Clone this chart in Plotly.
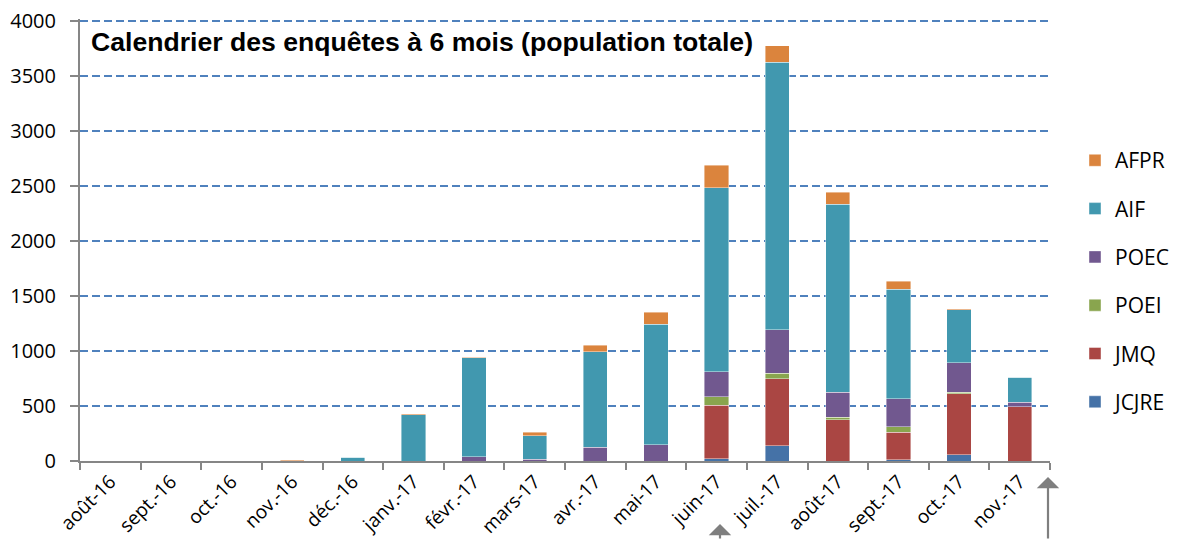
import plotly.graph_objects as go

months = ["août-16", "sept.-16", "oct.-16", "nov.-16", "déc.-16", "janv.-17",
          "févr.-17", "mars-17", "avr.-17", "mai-17", "juin-17", "juil.-17",
          "août-17", "sept.-17", "oct.-17", "nov.-17"]

JCJRE = [0, 0, 0, 0, 0, 0, 0, 0, 0, 0, 20, 140, 0, 10, 55, 0]
JMQ   = [0, 0, 0, 0, 0, 0, 0, 0, 0, 0, 485, 610, 375, 250, 555, 495]
POEI  = [0, 0, 0, 0, 0, 0, 0, 0, 0, 0, 80, 50, 25, 50, 15, 0]
POEC  = [0, 0, 0, 0, 0, 0, 40, 15, 127, 150, 225, 395, 225, 255, 270, 40]
AIF   = [0, 0, 0, 0, 35, 420, 900, 215, 867, 1093, 1675, 2430, 1710, 995, 480, 225]
AFPR  = [0, 0, 0, 8, 0, 8, 5, 30, 60, 110, 205, 150, 110, 75, 10, 0]

series = [
    ("JCJRE", JCJRE, "#4572A7"),
    ("JMQ", JMQ, "#AA4643"),
    ("POEI", POEI, "#89A54E"),
    ("POEC", POEC, "#71588F"),
    ("AIF", AIF, "#4198AF"),
    ("AFPR", AFPR, "#DB843D"),
]

y_ticks = [0, 500, 1000, 1500, 2000, 2500, 3000, 3500, 4000]
Y_MAX = 4020  # a hair above 4000 so the top grid line is kept

# page body has an 8px margin; size the figure so the page fits the window
OFF = 8
W, H = 1178 - 2 * OFF, 548 - 2 * OFF
PL, PW = 80, 970                      # plot area, window pixels
Y0, Y4000 = 461, 21                   # window y of value 0 and 4000
SCALE = (Y0 - Y4000) / 4000
PH = SCALE * Y_MAX
PT = Y0 - PH


def px(X):
    return (X - PL) / PW


def py(Y):
    return (Y0 - Y) / PH


fig = go.Figure()
n = len(series)
for i, (name, vals, color) in enumerate(series):
    fig.add_trace(go.Bar(
        x=months, y=vals, name=name, legendgroup=name, legendrank=n - i,
        marker=dict(color=color, line=dict(color="rgba(255,255,255,0.6)", width=0.7)),
    ))

fig.update_layout(
    width=W, height=H,
    barmode="stack", bargap=0.6,
    plot_bgcolor="white", paper_bgcolor="white",
    margin=dict(l=PL - OFF, r=W - (PL - OFF) - PW, t=PT - OFF,
                b=H - (PT - OFF) - PH, autoexpand=False),
    font=dict(family="Open Sans", size=19, color="#000000"),
    legend=dict(
        x=px(1075), y=py(140), xanchor="left", yanchor="top",
        traceorder="grouped", tracegroupgap=18, bgcolor="rgba(0,0,0,0)",
        font=dict(family="Open Sans", size=21, color="#000000"),
        itemwidth=30,
    ),
    xaxis=dict(
        type="category", showline=True, linecolor="#868686", linewidth=2,
        ticks="outside", tickson="boundaries", ticklen=7, tickwidth=2,
        tickcolor="#868686", tickangle=-45, showgrid=False, automargin=False,
        tickfont=dict(family="Open Sans", size=19, color="#000000"),
    ),
    yaxis=dict(
        range=[0, Y_MAX], tickvals=y_ticks, showline=True, linecolor="#868686",
        linewidth=2, showgrid=True, gridcolor="#4F81BD", gridwidth=1.8,
        griddash="8px,4px", zeroline=False, ticks="outside", ticklen=8,
        tickwidth=2, tickcolor="#868686", ticklabelstandoff=10, automargin=False,
        ticklabeloverflow="allow",
        tickfont=dict(family="Open Sans", size=20, color="#000000"),
    ),
    annotations=[
        dict(text="<b>Calendrier des enquêtes à 6 mois (population totale)</b>",
             xref="paper", yref="paper", x=px(89), y=py(42),
             xanchor="left", yanchor="middle", showarrow=False,
             font=dict(family="Liberation Sans", size=26.6, color="#000000")),
        dict(text="", xref="paper", yref="paper", x=px(720), y=py(524),
             ax=0, ay=40, axref="pixel", ayref="pixel", showarrow=True,
             arrowhead=1, arrowsize=1.7, arrowwidth=2.2, arrowcolor="#7F7F7F"),
        dict(text="", xref="paper", yref="paper", x=px(1048), y=py(477),
             ax=0, ay=90, axref="pixel", ayref="pixel", showarrow=True,
             arrowhead=1, arrowsize=1.7, arrowwidth=2.2, arrowcolor="#7F7F7F"),
    ],
)

fig.write_html("out.html")
